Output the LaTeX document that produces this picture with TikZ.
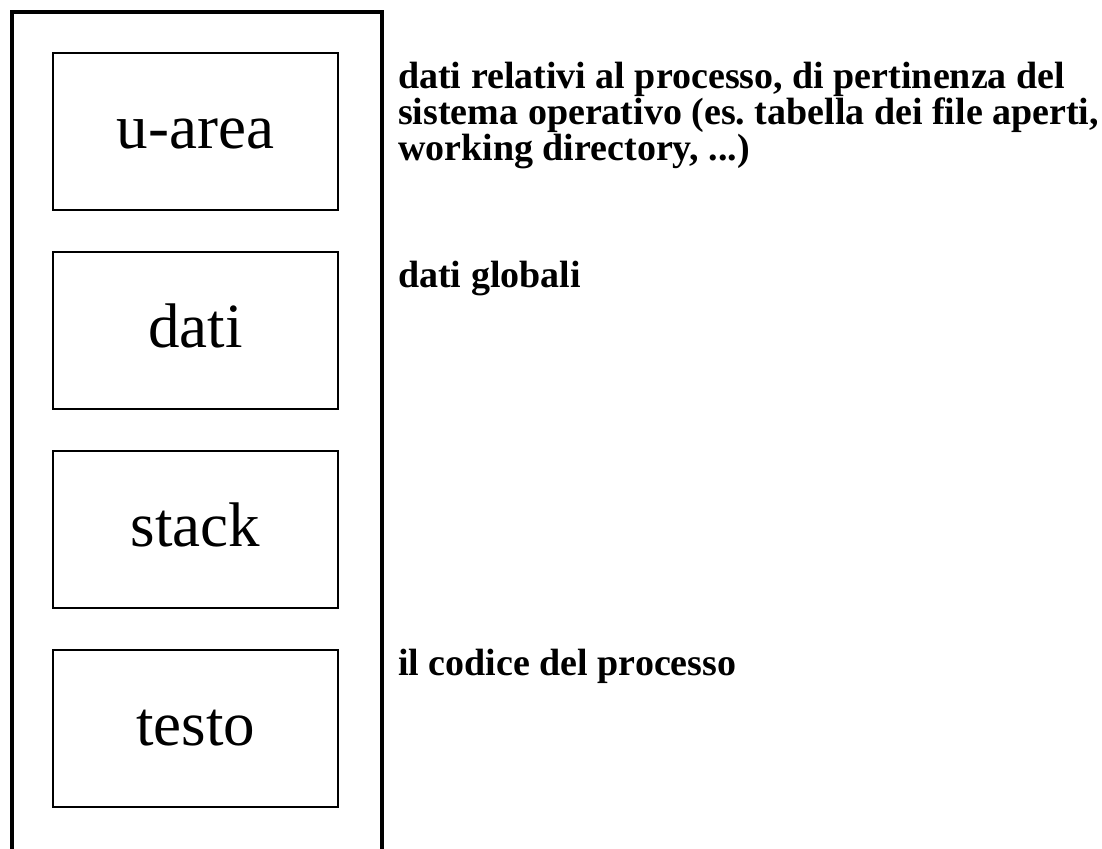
\documentclass[tikz,border=0pt]{standalone}
\usepackage{fontspec}
\setmainfont{Liberation Serif}
\usetikzlibrary{positioning}
\frenchspacing

\begin{document}
\begin{tikzpicture}[x=1pt, y=1pt,
    segbox/.style={draw, line width=2pt, minimum width=285pt, minimum height=157pt,
        font=\fontsize{63}{63}\selectfont, text height=44pt, text depth=10pt},
    note/.style={anchor=base west, inner sep=0pt, align=left,
        font=\fontsize{38}{36}\selectfont\bfseries}]
\useasboundingbox (0,0) rectangle (1102,-848);
\clip (0,0) rectangle (1102,-848);

% Process image (open at the bottom)
\draw[line width=4.5pt] (12,-870) -- (12,-12) -- (382,-12) -- (382,-870);

% Segments
\node[segbox] (uarea) at (195.5,-131.5) {u-area};
\node[segbox, below=40pt of uarea] (dati) {dati};
\node[segbox, below=40pt of dati] (stack) {stack};
\node[segbox, below=40pt of stack] (testo) {testo};

% Descriptions
\node[note, anchor=north west] (uareanote) at (398,-62) {dati relativi al processo, di pertinenza del\\
    sistema operativo (es. tabella dei file aperti,\\
    working directory, ...)};
\node[note] (datinote) at (398,-287) {dati globali};
\node[note] (testonote) at (398,-675) {il codice del processo};
\end{tikzpicture}
\end{document}
